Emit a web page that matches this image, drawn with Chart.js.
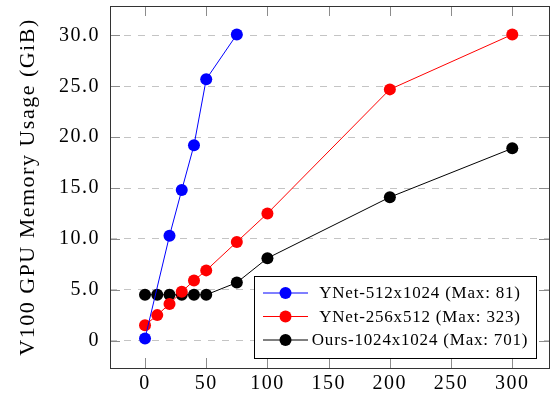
<!DOCTYPE html>
<html>
<head>
<meta charset="utf-8">
<script src="https://cdn.jsdelivr.net/npm/chart.js@4"></script>
<style>
  body { margin: 0; background: #fff; }
  #wrap { width: 556px; height: 400px; }
</style>
</head>
<body>
<div id="wrap"><canvas id="memChart"></canvas></div>
<script>
// data
const seriesNames = ['YNet-512x1024 (Max: 81)', 'YNet-256x512 (Max: 323)', 'Ours-1024x1024 (Max: 701)'];
const ynet512Batch = [0, 20, 30, 40, 50, 75];
const ynet512Mem = [0.2, 10.3, 14.8, 19.2, 25.7, 30.1];
const ynet256Batch = [0, 10, 20, 30, 40, 50, 75, 100, 200, 300];
const ynet256Mem = [1.5, 2.5, 3.6, 4.8, 5.9, 6.9, 9.7, 12.5, 24.7, 30.1];
const oursBatch = [0, 10, 20, 30, 40, 50, 75, 100, 200, 300];
const oursMem = [4.5, 4.5, 4.5, 4.5, 4.5, 4.5, 5.7, 8.1, 14.1, 18.9];
const xTicks = [0, 50, 100, 150, 200, 250, 300];
const yTicks = [0, 5, 10, 15, 20, 25, 30];
const yTickLabels = ['0', '5.0', '10.0', '15.0', '20.0', '25.0', '30.0'];

const serif = "'Liberation Serif', 'DejaVu Serif', serif";

function toPoints(xs, ys) {
    return xs.map((x, i) => ({ x: x, y: ys[i] }));
}

function makeSeries(label, xs, ys, color) {
    return {
        label: label,
        data: toPoints(xs, ys),
        borderColor: color,
        backgroundColor: color,
        borderWidth: 1,
        pointRadius: 6,
        pointBorderWidth: 0,
        pointHoverRadius: 6,
        tension: 0
    };
}

// wide TeX-like spacing
const spacing = {
    id: 'spacing',
    beforeLayout(chart) { chart.ctx.letterSpacing = '1.5px'; },
    beforeDraw(chart) { chart.ctx.letterSpacing = '1.5px'; }
};

// frame, inward ticks and boxed legend in the lower right
const frame = {
    id: 'frame',
    afterDatasetsDraw(chart) {
        const ctx = chart.ctx;
        const a = chart.chartArea;
        const xs = chart.scales.x, ys = chart.scales.y;
        ctx.save();
        ctx.strokeStyle = '#8c8c8c';
        ctx.lineWidth = 1;
        ctx.beginPath();
        xTicks.forEach(v => {
            const px = Math.round(xs.getPixelForValue(v)) + 0.5;
            ctx.moveTo(px, a.top); ctx.lineTo(px, a.top + 10);
            ctx.moveTo(px, a.bottom); ctx.lineTo(px, a.bottom - 10);
        });
        yTicks.forEach(v => {
            const py = Math.round(ys.getPixelForValue(v)) + 0.5;
            ctx.moveTo(a.left, py); ctx.lineTo(a.left + 10, py);
            ctx.moveTo(a.right, py); ctx.lineTo(a.right - 10, py);
        });
        ctx.stroke();

        // legend box
        const bx = 254, by = 276, bw = 282, bh = 82;
        ctx.fillStyle = '#fff';
        ctx.fillRect(bx, by, bw, bh);
        ctx.strokeStyle = '#000';
        ctx.strokeRect(bx + 0.5, by + 0.5, bw, bh);
        ctx.font = '17px ' + serif;
        ctx.letterSpacing = '0.8px';
        ctx.textAlign = 'center';
        ctx.textBaseline = 'middle';
        chart.data.datasets.forEach((ds, i) => {
            const cy = 293 + i * 23.5;
            ctx.strokeStyle = ds.borderColor;
            ctx.beginPath();
            ctx.moveTo(263, cy); ctx.lineTo(308, cy);
            ctx.stroke();
            ctx.fillStyle = ds.backgroundColor;
            ctx.beginPath();
            ctx.arc(285.5, cy, 6, 0, Math.PI * 2);
            ctx.fill();
            ctx.fillStyle = '#000';
            ctx.fillText(ds.label, 420, cy + 1);
        });

        ctx.strokeStyle = '#333';
        ctx.strokeRect(a.left + 0.5, a.top + 0.5, a.right - a.left, a.bottom - a.top);
        ctx.restore();
    }
};

const ctx = document.getElementById('memChart').getContext('2d');
new Chart(ctx, {
    type: 'line',
    data: {
        datasets: [
            makeSeries(seriesNames[0], ynet512Batch, ynet512Mem, '#0000ff'),
            makeSeries(seriesNames[1], ynet256Batch, ynet256Mem, '#ff0000'),
            makeSeries(seriesNames[2], oursBatch, oursMem, '#000000')
        ]
    },
    options: {
        responsive: true,
        maintainAspectRatio: false,
        animation: false,
        layout: { padding: { left: 0, right: 7, top: 3, bottom: 0 } },
        plugins: {
            legend: { display: false },
            tooltip: { enabled: false }
        },
        scales: {
            x: {
                type: 'linear',
                min: -28.6,
                max: 330,
                afterBuildTicks: s => { s.ticks = xTicks.map(v => ({ value: v })); },
                afterFit: s => { s.height = 32; s.paddingLeft = 0; s.paddingRight = 0; },
                grid: { display: false, drawTicks: false },
                border: { display: false },
                ticks: {
                    color: '#000',
                    font: { family: serif, size: 20 },
                    padding: 4,
                    maxRotation: 0,
                    autoSkip: false
                }
            },
            y: {
                type: 'linear',
                min: -2.7,
                max: 32.9,
                afterBuildTicks: s => { s.ticks = yTicks.map(v => ({ value: v })); },
                afterFit: s => { s.width = 110; s.paddingTop = 0; s.paddingBottom = 0; },
                grid: {
                    color: '#c4c4c4',
                    lineWidth: 1,
                    drawTicks: false
                },
                border: { display: false, dash: [7, 7] },
                ticks: {
                    color: '#000',
                    font: { family: serif, size: 20 },
                    padding: 10,
                    callback: (v, i) => yTickLabels[i]
                },
                title: {
                    display: true,
                    text: 'V100 GPU Memory Usage (GiB)',
                    color: '#000',
                    font: { family: serif, size: 22 },
                    padding: { top: 15, bottom: 0 }
                }
            }
        }
    },
    plugins: [spacing, frame]
});
</script>
</body>
</html>
